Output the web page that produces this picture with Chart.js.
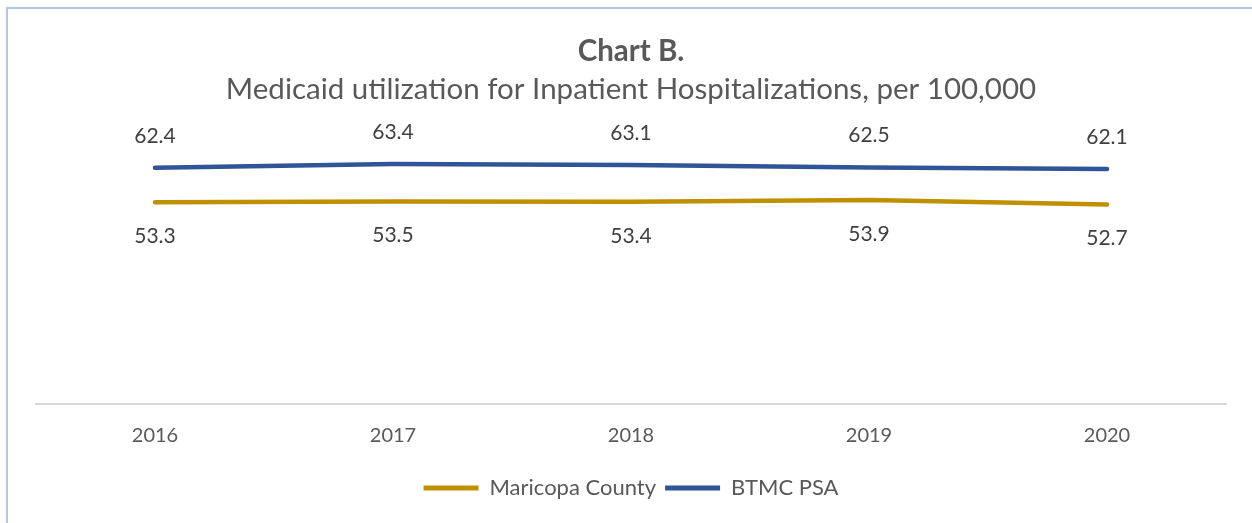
<!DOCTYPE html>
<html>
<head>
<meta charset="utf-8">
<script src="https://cdn.jsdelivr.net/npm/chart.js@4"></script>
<style>
  html, body { margin: 0; padding: 0; background: #fff; overflow: hidden; }
  #frame {
    position: absolute; left: 6px; top: 7px; width: 1400px; height: 700px;
    border: 2px solid #B4C7E7; box-sizing: border-box;
  }
  #wrap { position: absolute; left: 0; top: 0; width: 1252px; height: 523px; }
</style>
</head>
<body>
<div id="frame"></div>
<div id="wrap"><canvas id="chart" width="1252" height="523"></canvas></div>
<script>
// chart data
const years = ['2016', '2017', '2018', '2019', '2020'];
const maricopa = [53.3, 53.5, 53.4, 53.9, 52.7];
const btmc = [62.4, 63.4, 63.1, 62.5, 62.1];

const FONT = 'Lato';

// draws the value labels above / below each point
const valueLabels = {
  id: 'valueLabels',
  afterDatasetsDraw(chart) {
    const ctx = chart.ctx;
    ctx.save();
    ctx.font = '21px ' + FONT;
    ctx.fillStyle = '#404040';
    ctx.textAlign = 'center';
    ctx.textBaseline = 'middle';
    chart.data.datasets.forEach((ds, i) => {
      const meta = chart.getDatasetMeta(i);
      meta.data.forEach((pt, j) => {
        const dy = ds.labelPos === 'above' ? -32 : 34;
        ctx.fillText(ds.data[j].toFixed(1), pt.x, pt.y + dy);
      });
    });
    ctx.restore();
  }
};

const ctx = document.getElementById('chart').getContext('2d');
new Chart(ctx, {
  type: 'line',
  data: {
    labels: years,
    datasets: [
      { label: 'Maricopa County', data: maricopa, borderColor: '#BF9000', backgroundColor: '#BF9000',
        borderWidth: 4.5, pointRadius: 0, borderCapStyle: 'round', tension: 0, labelPos: 'below' },
      { label: 'BTMC PSA', data: btmc, borderColor: '#2F5597', backgroundColor: '#2F5597',
        borderWidth: 4.5, pointRadius: 0, borderCapStyle: 'round', tension: 0, labelPos: 'above' },
    ],
  },
  options: {
    responsive: false,
    animation: false,
    layout: { padding: { left: 36, right: 26, top: 10, bottom: 14 } },
    scales: {
      x: {
        offset: true,
        grid: { display: false, drawTicks: false },
        border: { display: true, color: '#D9D9D9', width: 2 },
        ticks: { color: '#595959', font: { family: FONT, size: 20 }, padding: 20 },
      },
      y: { display: false, min: 0, max: 70 },
    },
    plugins: {
      title: {
        display: true, text: 'Chart B.', color: '#595959',
        font: { family: FONT, size: 29.5, weight: 'bold', lineHeight: 1 }, padding: { top: 27, bottom: 0 },
      },
      subtitle: {
        display: true, text: 'Medicaid utilization for Inpatient Hospitalizations, per 100,000', color: '#595959',
        font: { family: FONT, size: 29.5, lineHeight: 1 }, padding: { top: 8, bottom: 35 },
      },
      legend: {
        position: 'bottom',
        labels: {
          color: '#595959', font: { family: FONT, size: 22 }, boxWidth: 55, boxHeight: 5, padding: 9,
          generateLabels(chart) {
            return chart.data.datasets.map((ds, i) => ({
              text: ds.label, fillStyle: ds.borderColor, strokeStyle: ds.borderColor,
              lineWidth: 0, fontColor: '#595959', datasetIndex: i, hidden: false,
            }));
          },
        },
      },
      tooltip: { enabled: false },
    },
  },
  plugins: [valueLabels],
});
</script>
</body>
</html>
